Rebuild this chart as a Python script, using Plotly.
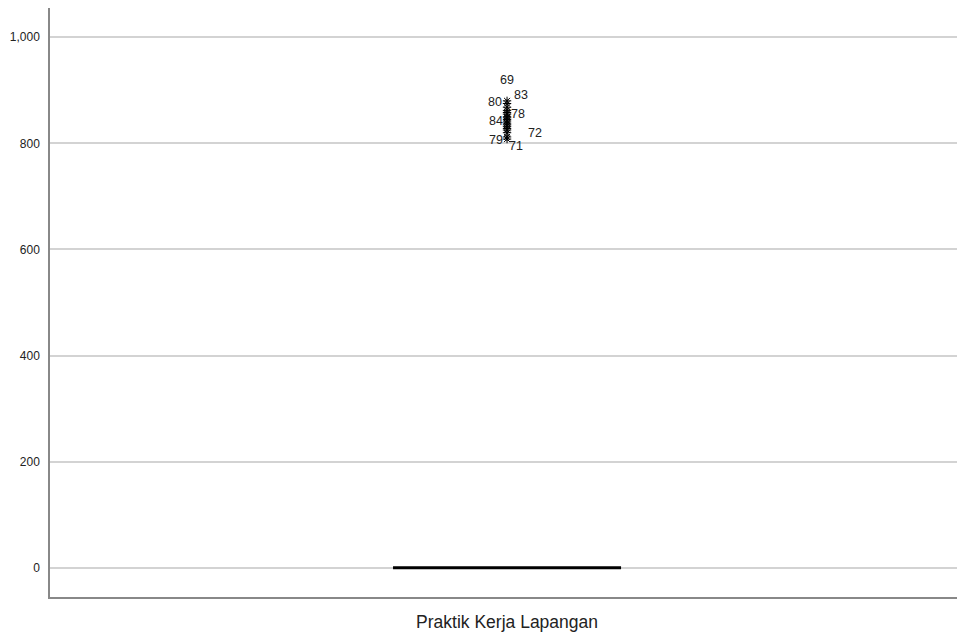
import plotly.graph_objects as go

category = "Praktik Kerja Lapangan"

# Box statistics (all non-extreme values are 0)
q1 = [0]
median = [0]
q3 = [0]
lowerfence = [0]
upperfence = [0]

# Extreme outliers (values) and case labels ("" = unlabeled)
outlier_values = [880, 875, 868, 862, 858, 855, 850, 848, 845, 842, 838, 835, 832, 828, 825, 820, 812, 808]
outlier_labels = ["69", "80", "83", "", "", "78", "", "", "", "84", "", "", "", "", "", "72", "79", "71"]

# label offsets in pixels (styling only)
label_shift = {
    "69": (0, 21), "80": (-12, 2), "83": (14, 12), "78": (11, 0),
    "84": (-11, 0), "72": (28, 0), "79": (-11, -3), "71": (9, -7),
}

y_ticks = [0, 200, 400, 600, 800, 1000]

fig = go.Figure()
fig.add_trace(go.Box(
    x=[category], q1=q1, median=median, q3=q3,
    lowerfence=lowerfence, upperfence=upperfence,
    width=0.2514, line=dict(color="black", width=3),
    fillcolor="rgba(0,0,0,0)", whiskerwidth=0, showlegend=False,
    hoverinfo="skip",
))
fig.add_trace(go.Scatter(
    x=[category] * len(outlier_values), y=outlier_values, mode="markers",
    marker=dict(symbol="asterisk-open", size=7, color="black",
                line=dict(color="black", width=1)),
    showlegend=False,
))
for v, lab in zip(outlier_values, outlier_labels):
    if lab:
        dx, dy = label_shift[lab]
        fig.add_annotation(x=category, y=v, text=lab, showarrow=False,
                           xshift=dx, yshift=dy,
                           font=dict(family="Arial, Liberation Sans", size=12.5, color="#222"))

fig.update_layout(
    width=957, height=633,
    margin=dict(l=50, r=0, t=8, b=36),
    plot_bgcolor="white", paper_bgcolor="white",
    font=dict(family="Arial, Liberation Sans", size=12, color="#222"),
)
fig.update_xaxes(
    type="category", range=[-0.5039, 0.4961],
    showline=True, linecolor="#888", linewidth=1.5, mirror=False,
    showgrid=False, ticks="outside", ticklen=8, tickcolor="rgba(0,0,0,0)",
    tickfont=dict(size=17.5, color="#222"),
)
fig.update_yaxes(
    range=[-55, 1055], tickvals=y_ticks, tickformat=",",
    showline=True, linecolor="#888", linewidth=1.5,
    showgrid=True, gridcolor="#d3d3d3", gridwidth=1.5,
    zeroline=False, ticks="outside", ticklen=6, tickcolor="rgba(0,0,0,0)",
    tickfont=dict(size=12, color="#222"),
)

fig.write_html("out.html", config={"displayModeBar": False},
               post_script="document.body.style.margin='0';")
